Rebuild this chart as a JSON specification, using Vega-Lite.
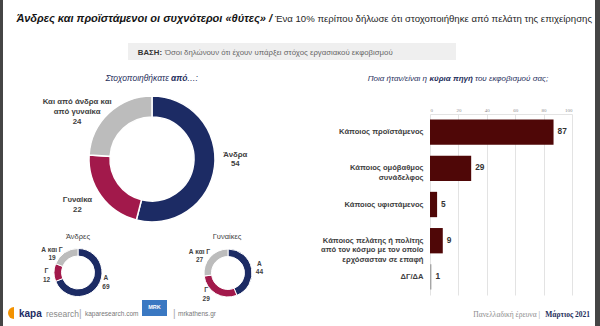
{
  "$schema": "https://vega.github.io/schema/vega-lite/v6.json",
  "width": 600,
  "height": 326,
  "autosize": {"type": "none"},
  "padding": 0,
  "background": "#ffffff",
  "config": {
    "view": {"stroke": null},
    "font": "Liberation Sans, Arial, sans-serif"
  },
  "data": {"values": [{}]},
  "layer": [
    {"mark": {"type": "rect", "x": 0, "x2": 3, "y": 0, "y2": 326, "color": "#454545"}, "encoding": {}},
    {"mark": {"type": "rect", "x": 595, "x2": 600, "y": 0, "y2": 326, "color": "#454545"}, "encoding": {}},
    {"mark": {"type": "text", "text": "Άνδρες και προϊστάμενοι οι συχνότεροι «θύτες» /", "x": 272, "y": 22, "align": "right", "baseline": "alphabetic", "fontSize": 11, "fontWeight": "bold", "fontStyle": "italic", "color": "#151515"}, "encoding": {}},
    {"mark": {"type": "text", "text": "Ένα 10% περίπου δήλωσε ότι στοχοποιήθηκε από πελάτη της επιχείρησης", "x": 275, "y": 22, "align": "left", "baseline": "alphabetic", "fontSize": 9.6, "color": "#262626"}, "encoding": {}},
    {"mark": {"type": "rule", "x": 10, "x2": 590, "y": 39, "color": "#e6e6e6", "strokeWidth": 1}, "encoding": {}},
    {"mark": {"type": "rect", "x": 128, "x2": 456, "y": 43, "y2": 60, "color": "#efefef"}, "encoding": {}},
    {"mark": {"type": "text", "text": "ΒΑΣΗ:", "x": 162, "y": 55, "align": "right", "baseline": "alphabetic", "fontSize": 7.8, "fontWeight": "bold", "color": "#333333"}, "encoding": {}},
    {"mark": {"type": "text", "text": "Όσοι δηλώνουν ότι έχουν υπάρξει στόχος εργασιακού εκφοβισμού", "x": 165, "y": 55, "align": "left", "baseline": "alphabetic", "fontSize": 7.8, "color": "#666666"}, "encoding": {}},
    {"mark": {"type": "text", "text": "Στοχοποιηθήκατε", "x": 169, "y": 81, "align": "right", "baseline": "alphabetic", "fontSize": 8.5, "fontStyle": "italic", "color": "#1f2f5c"}, "encoding": {}},
    {"mark": {"type": "text", "text": "από", "x": 171, "y": 81, "align": "left", "baseline": "alphabetic", "fontSize": 8.5, "fontStyle": "italic", "fontWeight": "bold", "color": "#1f2f5c"}, "encoding": {}},
    {"mark": {"type": "text", "text": "…:", "x": 187, "y": 81, "align": "left", "baseline": "alphabetic", "fontSize": 8.5, "fontStyle": "italic", "color": "#1f2f5c"}, "encoding": {}},
    {
      "data": {"values": [
        {"cat": "Άνδρα", "v": 54, "k": 1, "lbl": "Άνδρα\n54"},
        {"cat": "Γυναίκα", "v": 22, "k": 2, "lbl": "Γυναίκα\n22"},
        {"cat": "Και από άνδρα και από γυναίκα", "v": 24, "k": 3, "lbl": "Και από άνδρα και\nαπό γυναίκα\n24"}
      ]},
      "encoding": {
        "theta": {"field": "v", "type": "quantitative", "stack": true},
        "order": {"field": "k", "type": "quantitative"},
        "color": {"field": "cat", "type": "nominal", "legend": null, "scale": {"domain": ["Άνδρα", "Γυναίκα", "Και από άνδρα και από γυναίκα", "Α", "Γ", "Α και Γ"], "range": ["#1c2b64", "#a2194b", "#bcbcbc", "#1c2b64", "#a2194b", "#bcbcbc"]}}
      },
      "layer": [
        {"mark": {"type": "arc", "x": 152, "y": 159, "outerRadius": 63, "innerRadius": 42, "stroke": "#ffffff", "strokeWidth": 1.5}},
        {"mark": {"type": "text", "x": 152, "y": 159, "radius": 86, "dx": -2, "dy": -15, "lineBreak": "\n", "lineHeight": 9.2, "fontSize": 7.8, "fontWeight": "bold", "align": "center", "baseline": "middle"}, "encoding": {"text": {"condition": {"test": "datum.k === 1", "field": "lbl", "type": "nominal"}, "value": ""}, "color": {"value": "#404040"}}},
        {"mark": {"type": "text", "x": 152, "y": 159, "radius": 86, "dx": -5, "dy": -10, "lineBreak": "\n", "lineHeight": 10, "fontSize": 7.8, "fontWeight": "bold", "align": "center", "baseline": "middle"}, "encoding": {"text": {"condition": {"test": "datum.k === 2", "field": "lbl", "type": "nominal"}, "value": ""}, "color": {"value": "#404040"}}},
        {"mark": {"type": "text", "x": 152, "y": 159, "radius": 86, "dx": -16, "dy": 6, "lineBreak": "\n", "lineHeight": 9.7, "fontSize": 7.8, "fontWeight": "bold", "align": "center", "baseline": "middle"}, "encoding": {"text": {"condition": {"test": "datum.k === 3", "field": "lbl", "type": "nominal"}, "value": ""}, "color": {"value": "#404040"}}}
      ]
    },
    {
      "data": {"values": [
        {"cat": "Α", "v": 69, "k": 1, "lbl": "Α\n69"},
        {"cat": "Γ", "v": 12, "k": 2, "lbl": "Γ\n12"},
        {"cat": "Α και Γ", "v": 19, "k": 3, "lbl": "Α και Γ\n19"}
      ]},
      "encoding": {
        "theta": {"field": "v", "type": "quantitative", "stack": true},
        "order": {"field": "k", "type": "quantitative"},
        "color": {"field": "cat", "type": "nominal", "legend": null, "scale": {"domain": ["Άνδρα", "Γυναίκα", "Και από άνδρα και από γυναίκα", "Α", "Γ", "Α και Γ"], "range": ["#1c2b64", "#a2194b", "#bcbcbc", "#1c2b64", "#a2194b", "#bcbcbc"]}}
      },
      "layer": [
        {"mark": {"type": "arc", "x": 78, "y": 272.5, "outerRadius": 24, "innerRadius": 16.5, "stroke": "#ffffff", "strokeWidth": 1}},
        {"mark": {"type": "text", "x": 78, "y": 272.5, "radius": 32, "dx": 1.5, "dy": -12, "lineBreak": "\n", "lineHeight": 8.8, "fontSize": 6.5, "fontWeight": "bold", "align": "center", "baseline": "middle"}, "encoding": {"text": {"condition": {"test": "datum.k === 1", "field": "lbl", "type": "nominal"}, "value": ""}, "color": {"value": "#404040"}}},
        {"mark": {"type": "text", "x": 78, "y": 272.5, "radius": 32, "dx": 0.5, "dy": -1.5, "lineBreak": "\n", "lineHeight": 8.8, "fontSize": 6.5, "fontWeight": "bold", "align": "center", "baseline": "middle"}, "encoding": {"text": {"condition": {"test": "datum.k === 2", "field": "lbl", "type": "nominal"}, "value": ""}, "color": {"value": "#404040"}}},
        {"mark": {"type": "text", "x": 78, "y": 272.5, "radius": 32, "dx": -8, "dy": 4, "lineBreak": "\n", "lineHeight": 7.8, "fontSize": 6.5, "fontWeight": "bold", "align": "center", "baseline": "middle"}, "encoding": {"text": {"condition": {"test": "datum.k === 3", "field": "lbl", "type": "nominal"}, "value": ""}, "color": {"value": "#404040"}}}
      ]
    },
    {
      "data": {"values": [
        {"cat": "Α", "v": 44, "k": 1, "lbl": "Α\n44"},
        {"cat": "Γ", "v": 29, "k": 2, "lbl": "Γ\n29"},
        {"cat": "Α και Γ", "v": 27, "k": 3, "lbl": "Α και Γ\n27"}
      ]},
      "encoding": {
        "theta": {"field": "v", "type": "quantitative", "stack": true},
        "order": {"field": "k", "type": "quantitative"},
        "color": {"field": "cat", "type": "nominal", "legend": null, "scale": {"domain": ["Άνδρα", "Γυναίκα", "Και από άνδρα και από γυναίκα", "Α", "Γ", "Α και Γ"], "range": ["#1c2b64", "#a2194b", "#bcbcbc", "#1c2b64", "#a2194b", "#bcbcbc"]}}
      },
      "layer": [
        {"mark": {"type": "arc", "x": 228, "y": 273, "outerRadius": 24, "innerRadius": 16.5, "stroke": "#ffffff", "strokeWidth": 1}},
        {"mark": {"type": "text", "x": 228, "y": 273, "radius": 32, "dx": 0, "dy": -3.5, "lineBreak": "\n", "lineHeight": 8.8, "fontSize": 6.5, "fontWeight": "bold", "align": "center", "baseline": "middle"}, "encoding": {"text": {"condition": {"test": "datum.k === 1", "field": "lbl", "type": "nominal"}, "value": ""}, "color": {"value": "#404040"}}},
        {"mark": {"type": "text", "x": 228, "y": 273, "radius": 32, "dx": -5.5, "dy": -10.5, "lineBreak": "\n", "lineHeight": 8.8, "fontSize": 6.5, "fontWeight": "bold", "align": "center", "baseline": "middle"}, "encoding": {"text": {"condition": {"test": "datum.k === 2", "field": "lbl", "type": "nominal"}, "value": ""}, "color": {"value": "#404040"}}},
        {"mark": {"type": "text", "x": 228, "y": 273, "radius": 32, "dx": -4.5, "dy": 0, "lineBreak": "\n", "lineHeight": 7.8, "fontSize": 6.5, "fontWeight": "bold", "align": "center", "baseline": "middle"}, "encoding": {"text": {"condition": {"test": "datum.k === 3", "field": "lbl", "type": "nominal"}, "value": ""}, "color": {"value": "#404040"}}}
      ]
    },
    {"mark": {"type": "text", "text": "Άνδρες", "x": 78, "y": 237, "align": "center", "baseline": "middle", "fontSize": 7.5, "color": "#404040"}, "encoding": {}},
    {"mark": {"type": "rule", "x": 66, "x2": 90, "y": 241.5, "color": "#404040", "strokeWidth": 0.7}, "encoding": {}},
    {"mark": {"type": "text", "text": "Γυναίκες", "x": 227, "y": 237, "align": "center", "baseline": "middle", "fontSize": 7.5, "color": "#404040"}, "encoding": {}},
    {"mark": {"type": "rule", "x": 212, "x2": 242, "y": 241.5, "color": "#404040", "strokeWidth": 0.7}, "encoding": {}},
    {"mark": {"type": "rule", "x": 153, "y": 235, "y2": 295, "color": "#d9d9d9", "strokeWidth": 1}, "encoding": {}},
    {"mark": {"type": "rule", "x": 298, "y": 68, "y2": 295, "color": "#d9d9d9", "strokeWidth": 1}, "encoding": {}},
    {"mark": {"type": "text", "text": "Ποια ήταν/είναι η", "x": 427, "y": 81, "align": "right", "baseline": "alphabetic", "fontSize": 8, "fontStyle": "italic", "color": "#1f2f5c"}, "encoding": {}},
    {"mark": {"type": "text", "text": "κύρια πηγή", "x": 429.5, "y": 81, "align": "left", "baseline": "alphabetic", "fontSize": 8, "fontStyle": "italic", "fontWeight": "bold", "color": "#1f2f5c"}, "encoding": {}},
    {"mark": {"type": "text", "text": "του εκφοβισμού σας;", "x": 475, "y": 81, "align": "left", "baseline": "alphabetic", "fontSize": 8, "fontStyle": "italic", "color": "#1f2f5c"}, "encoding": {}},
    {
      "data": {"values": [
        {"src": "Κάποιος προϊστάμενος", "v": 87},
        {"src": "Κάποιος ομόβαθμος\nσυνάδελφος", "v": 29},
        {"src": "Κάποιος υφιστάμενος", "v": 5},
        {"src": "Κάποιος πελάτης ή πολίτης\nαπό τον κόσμο με τον οποίο\nερχόσασταν σε επαφή", "v": 9},
        {"src": "ΔΓ/ΔΑ", "v": 1}
      ]},
      "encoding": {
        "y": {
          "field": "src", "type": "nominal", "sort": null,
          "scale": {"range": [114, 295], "paddingInner": 0.3, "paddingOuter": 0.15},
          "axis": {"orient": "left", "offset": -430, "title": null, "domain": false, "ticks": false, "labelPadding": 7, "labelFontSize": 7.6, "labelFontWeight": "bold", "labelColor": "#404040", "labelAlign": "right", "labelBaseline": "middle", "labelLineHeight": 9.5, "labelLimit": 200, "labelExpr": "split(datum.value, '\\n')"}
        },
        "x": {
          "field": "v", "type": "quantitative",
          "scale": {"domain": [0, 100], "range": [430, 572], "nice": false},
          "axis": {"orient": "top", "offset": -114, "title": null, "values": [0, 20, 40, 60, 80, 100], "grid": true, "gridColor": "#e3e3e3", "gridWidth": 1, "ticks": false, "domain": true, "domainColor": "#e3e3e3", "labelFontSize": 5, "labelColor": "#8c8c8c", "labelPadding": 2, "labelFont": "Liberation Serif, serif"}
        }
      },
      "layer": [
        {"mark": {"type": "bar"}, "encoding": {"color": {"condition": {"test": "datum.src === 'ΔΓ/ΔΑ'", "value": "#a6a6a6"}, "value": "#4f0707"}}},
        {"mark": {"type": "text", "align": "left", "baseline": "middle", "dx": 4, "fontSize": 8.3, "fontWeight": "bold", "color": "#333333"}, "encoding": {"text": {"field": "v", "type": "quantitative"}}}
      ]
    },
    {"mark": {"type": "rule", "x": 10, "x2": 590, "y": 304, "color": "#e6e6e6", "strokeWidth": 1}, "encoding": {}},
    {"mark": {"type": "arc", "x": 14, "y": 313, "outerRadius": 6, "innerRadius": 0, "theta": 3.1416, "theta2": 6.2832, "color": "#f39200"}, "encoding": {}},
    {"mark": {"type": "text", "text": "kapa", "x": 19, "y": 317, "align": "left", "baseline": "alphabetic", "fontSize": 10, "fontWeight": "bold", "color": "#1c2b64"}, "encoding": {}},
    {"mark": {"type": "text", "text": "research", "x": 46, "y": 317, "align": "left", "baseline": "alphabetic", "fontSize": 8.5, "color": "#8a8a8a"}, "encoding": {}},
    {"mark": {"type": "text", "text": "|", "x": 79, "y": 317, "align": "left", "baseline": "alphabetic", "fontSize": 10, "color": "#aaaaaa"}, "encoding": {}},
    {"mark": {"type": "text", "text": "kaparesearch.com", "x": 85, "y": 316, "align": "left", "baseline": "alphabetic", "fontSize": 6.5, "color": "#777777"}, "encoding": {}},
    {"mark": {"type": "rect", "x": 142, "x2": 167, "y": 300, "y2": 316, "color": "#3a78c2"}, "encoding": {}},
    {"mark": {"type": "text", "text": "MRK", "x": 154.5, "y": 307, "align": "center", "baseline": "middle", "fontSize": 5.5, "fontWeight": "bold", "color": "#ffffff"}, "encoding": {}},
    {"mark": {"type": "text", "text": "|", "x": 173, "y": 317, "align": "left", "baseline": "alphabetic", "fontSize": 10, "color": "#aaaaaa"}, "encoding": {}},
    {"mark": {"type": "text", "text": "mrkathens.gr", "x": 178, "y": 316, "align": "left", "baseline": "alphabetic", "fontSize": 6.5, "color": "#777777"}, "encoding": {}},
    {"mark": {"type": "text", "text": "Πανελλαδική έρευνα |", "x": 540, "y": 317, "align": "right", "baseline": "alphabetic", "fontSize": 7.5, "font": "Liberation Serif, DejaVu Serif, serif", "color": "#8c8c8c"}, "encoding": {}},
    {"mark": {"type": "text", "text": "Μάρτιος 2021", "x": 590, "y": 317, "align": "right", "baseline": "alphabetic", "fontSize": 7.5, "fontWeight": "bold", "font": "Liberation Serif, DejaVu Serif, serif", "color": "#1f2f5c"}, "encoding": {}}
  ]
}
